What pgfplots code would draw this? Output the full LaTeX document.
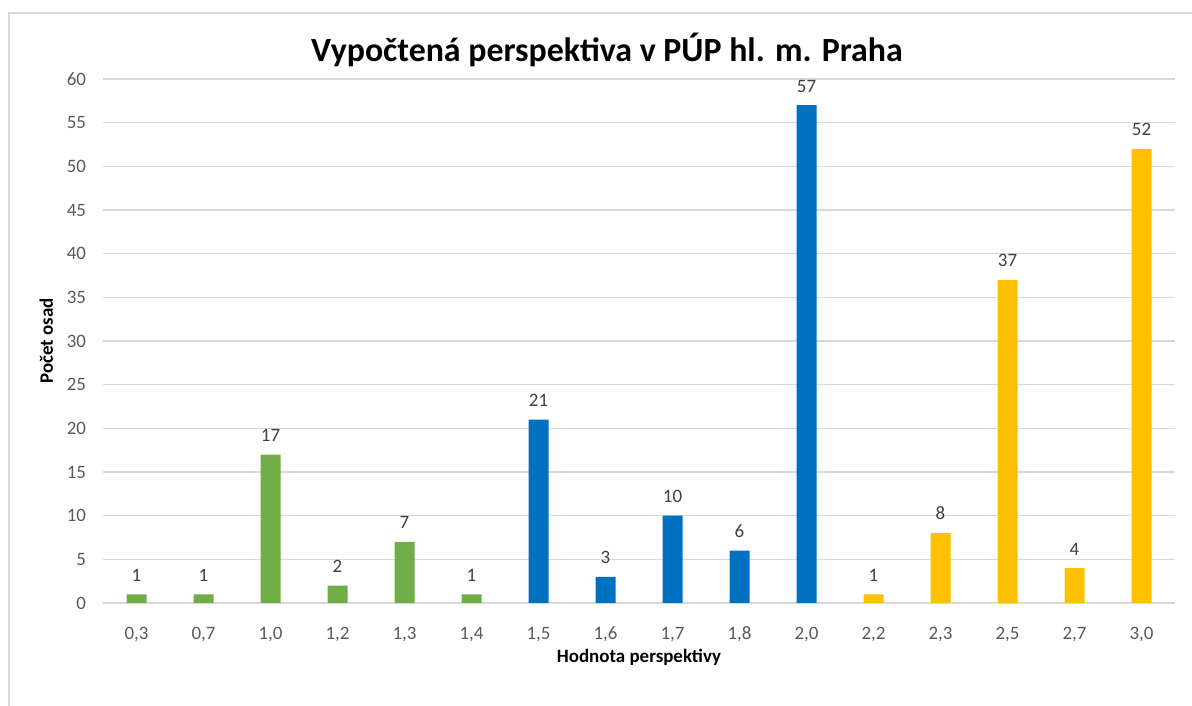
\documentclass[border=0pt]{standalone}
\usepackage{pgfplots}
\pgfplotsset{compat=1.18}
\usepackage{fontspec}
\setmainfont{Carlito}
\definecolor{cgreen}{HTML}{70AD47}
\definecolor{cblue}{HTML}{0070C0}
\definecolor{cgold}{HTML}{FFC000}
\definecolor{cgrid}{HTML}{D9D9D9}
\definecolor{ctick}{HTML}{595959}
\definecolor{clab}{HTML}{404040}
\begin{document}
\begin{tikzpicture}
\path[use as bounding box] (0,0) rectangle (596bp,353bp);
\draw[cgrid, line width=1bp] (4.5bp,0) -- (4.5bp,346.5bp) -- (596bp,346.5bp);
\node[font=\fontsize{17}{20}\selectfont\bfseries] at (303.5bp,328bp) {Vypočtená perspektiva v PÚP hl. m. Praha};
\begin{axis}[
 at={(51.5bp,51.5bp)}, anchor=south west,
 scale only axis,
 width=536bp, height=262bp,
 ybar,
 bar width=10bp,
 xmin=-0.5, xmax=15.5,
 ymin=0, ymax=60,
 ytick distance=5,
 xtick={0,...,15},
 xticklabels={{0,3},{0,7},{1,0},{1,2},{1,3},{1,4},{1,5},{1,6},{1,7},{1,8},{2,0},{2,2},{2,3},{2,5},{2,7},{3,0}},
 axis x line*=bottom,
 axis y line*=left,
 x axis line style={cgrid, line width=1bp, -},
 y axis line style={draw=none},
 ymajorgrids,
 grid style={cgrid, line width=0.75bp},
 tick style={draw=none},
 ticklabel style={font=\fontsize{9.5}{11}\selectfont, text=ctick},
 /pgf/number format/assume math mode=true,
 xticklabel style={anchor=base, yshift=-14bp},
 yticklabel style={xshift=-5bp},
 xlabel={Hodnota perspektivy},
 ylabel={Počet osad},
 label style={font=\fontsize{9.5}{11}\selectfont\bfseries},
 xlabel style={yshift=3bp},
 ylabel style={yshift=0bp},
 nodes near coords,
 every node near coord/.append style={font=\fontsize{9.5}{11}\selectfont, text=clab, yshift=3bp},
]
\addplot[fill=cgreen, draw=none, bar shift=0pt] coordinates {(0,1) (1,1) (2,17) (3,2) (4,7) (5,1)};
\addplot[fill=cblue, draw=none, bar shift=0pt] coordinates {(6,21) (7,3) (8,10) (9,6) (10,57)};
\addplot[fill=cgold, draw=none, bar shift=0pt] coordinates {(11,1) (12,8) (13,37) (14,4) (15,52)};
\end{axis}
\end{tikzpicture}
\end{document}
